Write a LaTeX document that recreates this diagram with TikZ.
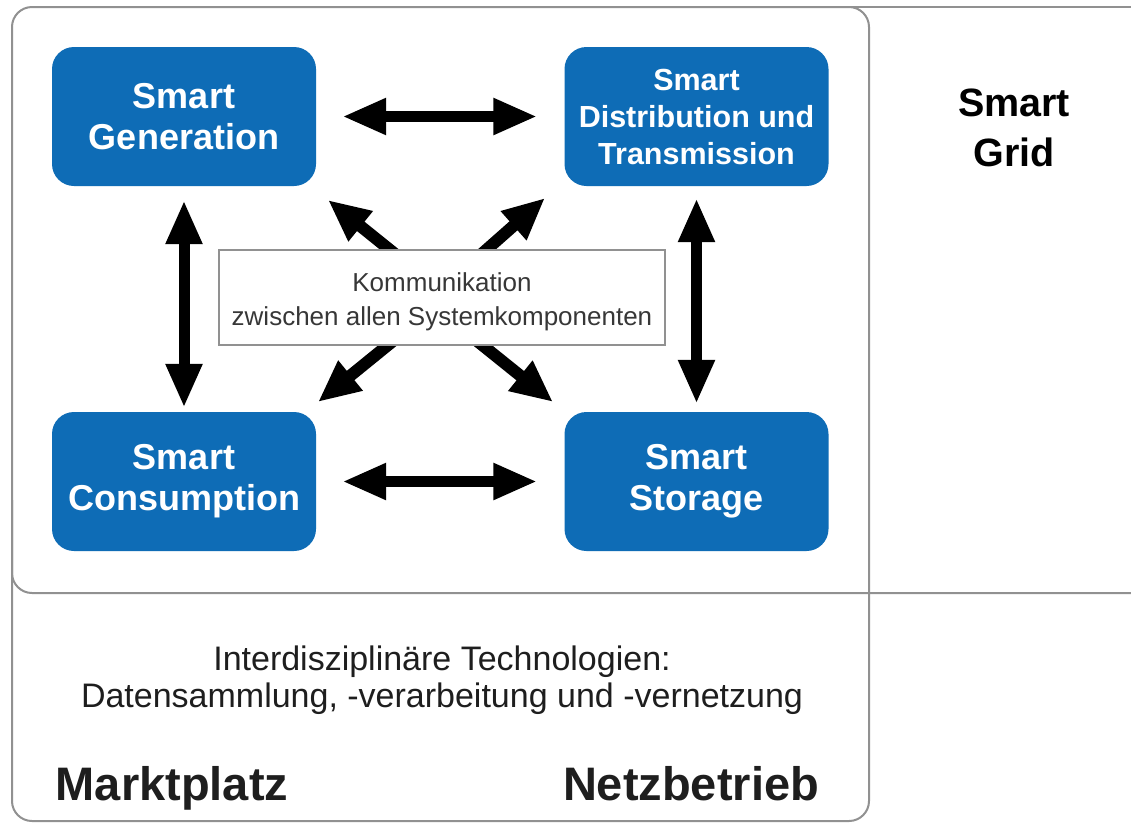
\documentclass[tikz,border=0pt]{standalone}
\usepackage{fontspec}
\setmainfont{Liberation Sans}
\usetikzlibrary{arrows.meta}
\definecolor{sgblue}{RGB}{14,108,182}
\definecolor{framegray}{RGB}{145,145,145}
\definecolor{commtext}{RGB}{55,55,55}
\definecolor{bottomtext}{RGB}{30,30,30}
\begin{document}
\begin{tikzpicture}[x=1pt,y=-1pt,
  frameline/.style={draw=framegray,line width=2pt},
  sgbox/.style={fill=sgblue,rounded corners=22pt,minimum width=264pt,minimum height=139pt,
    text=white,align=center,inner sep=0pt},
  bigfont/.style={font=\bfseries\fontsize{36}{41}\selectfont},
  midfont/.style={font=\bfseries\fontsize{30.5}{37}\selectfont},
  bigarrow/.style={line width=11pt,{Triangle[length=44pt,width=34pt]}-{Triangle[length=44pt,width=34pt]}},
  onearrow/.style={line width=12pt,-{Triangle[length=42pt,width=36pt]}},
  commbox/.style={draw=framegray,line width=1.5pt,fill=white,minimum width=446pt,minimum height=95pt,inner sep=0pt},
  plaintext/.style={align=center,inner sep=0pt},
]
\useasboundingbox (0,0) rectangle (1131,823);
\fill[white] (0,0) rectangle (1131,823);

% frames
\draw[frameline,rounded corners=20pt] (12,7) rectangle (869,821);
\draw[frameline,rounded corners=20pt] (12,500) -- (12,593) -- (1131,593);
\draw[frameline] (850,7) -- (1131,7);

% blue boxes
\node[sgbox,bigfont] (gen) at (184,116.5) {Smart\\Generation};
\node[sgbox,midfont] (dist) at (696.5,116.5) {Smart\\Distribution und\\Transmission};
\node[sgbox,bigfont] (cons) at (184,481.5) {Smart\\Consumption};
\node[sgbox,bigfont] (stor) at (696.5,481.5) {Smart\\Storage};

% straight arrows
\draw[bigarrow] ([xshift=26pt]gen.east) -- ([xshift=-27pt]dist.west);
\draw[bigarrow] ([xshift=26pt]cons.east) -- ([xshift=-27pt]stor.west);
\draw[bigarrow] ([yshift=-14pt]gen.south) -- ([yshift=4pt]cons.north);
\draw[bigarrow] ([yshift=-12pt]dist.south) -- ([yshift=8pt]stor.north);

% diagonal arrows
\coordinate (stl) at (405,262);
\coordinate (str) at (468,266);
\coordinate (sbl) at (409,328);
\coordinate (sbr) at (461,328);
\coordinate (etl) at (328,200);
\coordinate (etr) at (545,198);
\coordinate (ebl) at (318,402);
\coordinate (ebr) at (553,402);
\draw[onearrow] (stl) -- (etl);
\draw[onearrow] (str) -- (etr);
\draw[onearrow] (sbl) -- (ebl);
\draw[onearrow] (sbr) -- (ebr);

% communication box
\node[commbox] (comm) at (442,297.5) {};
\node[plaintext,text=commtext,font=\fontsize{26}{34}\selectfont] (commlabel) at (442,302)
  {Kommunikation\\zwischen allen Systemkomponenten};

% other texts
\node[plaintext,font=\bfseries\fontsize{39.5}{50}\selectfont] (grid) at (1014,128) {Smart\\Grid};
\node[plaintext,text=bottomtext,font=\fontsize{34}{37}\selectfont] (tech) at (442,680)
  {Interdisziplinäre Technologien:\\Datensammlung, -verarbeitung und -vernetzung};
\node[plaintext,text=bottomtext,font=\bfseries\fontsize{47}{50}\selectfont,anchor=base] (markt) at (172,800) {Marktplatz};
\node[plaintext,text=bottomtext,font=\bfseries\fontsize{47}{50}\selectfont,anchor=base] (netz) at (691,800) {Netzbetrieb};
\end{tikzpicture}
\end{document}
